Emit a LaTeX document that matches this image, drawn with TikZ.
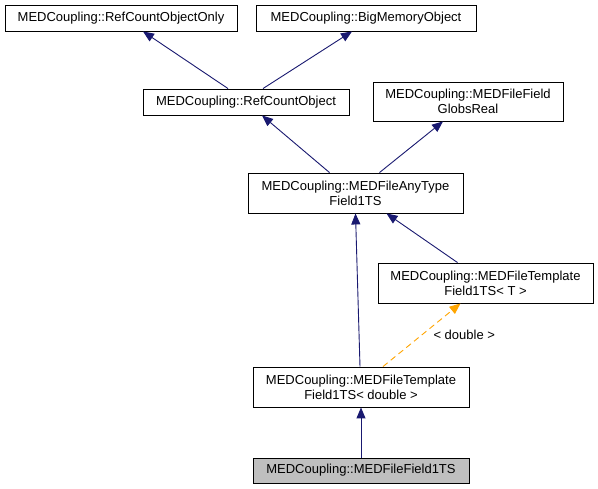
\documentclass[tikz,border=0pt]{standalone}
\usepackage{fontspec}
\setmainfont{Liberation Sans}
\usetikzlibrary{arrows.meta}
\definecolor{edgeblue}{HTML}{191970}
\definecolor{edgeorange}{HTML}{FFA500}
\definecolor{boxgray}{HTML}{BFBFBF}
\begin{document}
\begin{tikzpicture}[x=1pt,y=-1pt,
  cls/.style={draw=black,fill=white,line width=0.9pt,inner sep=0pt,font=\fontsize{13}{15}\selectfont,align=center},
  inh/.style={draw=edgeblue,line width=0.9pt,-{Triangle[length=11pt,width=9pt,fill=edgeblue]}},
  tmpl/.style={draw=edgeorange,line width=0.9pt,dash pattern=on 6pt off 4pt,-{Triangle[length=11pt,width=9pt,fill=edgeorange]}}]
\useasboundingbox[fill=white] (0,0) rectangle (598,489);
\node[cls,minimum width=232pt,minimum height=26pt] (A) at (121,18) {MEDCoupling::RefCountObjectOnly};
\node[cls,minimum width=220pt,minimum height=26pt] (B) at (366,18) {MEDCoupling::BigMemoryObject};
\node[cls,minimum width=206pt,minimum height=26pt] (C) at (246,102) {MEDCoupling::RefCountObject};
\node[cls,minimum width=190pt,minimum height=39pt] (D) at (468,101.5) {MEDCoupling::MEDFileField\\GlobsReal};
\node[cls,minimum width=215pt,minimum height=40pt] (E) at (355.5,193) {MEDCoupling::MEDFileAnyType\\Field1TS};
\node[cls,minimum width=215pt,minimum height=40pt] (F) at (485.5,283) {MEDCoupling::MEDFileTemplate\\Field1TS< T >};
\node[cls,minimum width=216pt,minimum height=40pt] (G) at (361,387) {MEDCoupling::MEDFileTemplate\\Field1TS< double >};
\node[cls,fill=boxgray,minimum width=216pt,minimum height=25pt] (H) at (361,470.5) {MEDCoupling::MEDFileField1TS};
\draw[inh] ([xshift=-18pt]C.north) -- ([xshift=22pt]A.south);
\draw[inh] ([xshift=17pt]C.north) -- ([xshift=-14pt]B.south);
\draw[inh] ([xshift=-26pt]E.north) -- ([xshift=16pt]C.south);
\draw[inh] ([xshift=24pt]E.north) -- ([xshift=-25pt]D.south);
\draw[inh] ([xshift=-28pt]F.north) -- ([xshift=31pt]E.south);
\draw[inh] ([xshift=-1pt]G.north) -- (E.south);
\draw[tmpl] ([xshift=22pt]G.north) -- ([xshift=-25pt]F.south) node[pos=0.5,right=8pt,font=\fontsize{13}{15}\selectfont] {< double >};
\draw[inh] (H.north) -- (G.south);
\end{tikzpicture}
\end{document}
